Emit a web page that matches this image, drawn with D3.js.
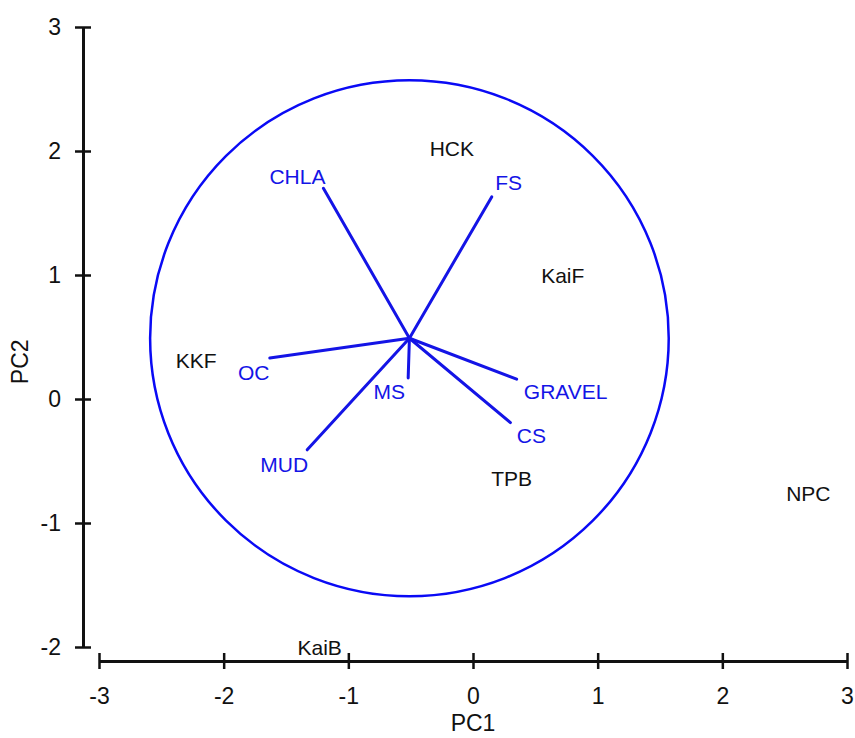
<!DOCTYPE html>
<html>
<head>
<meta charset="utf-8">
<script src="https://cdn.jsdelivr.net/npm/d3@7"></script>
<style>
  html, body { margin: 0; padding: 0; background: #fff; }
  svg { display: block; font-family: "Liberation Sans", Arial, sans-serif; }
</style>
</head>
<body>
<svg id="chart" width="855" height="738"></svg>
<script>
// Site scores on the first two principal components
const siteNames = ["HCK", "KaiF", "KKF", "TPB", "NPC", "KaiB"];
const sitePC1   = [-0.17, 0.72, -2.22, 0.31, 2.69, -1.23];
const sitePC2   = [ 2.02, 1.00,  0.31, -0.64, -0.76, -2.00];

// Environmental variable loadings (vector tips, drawn from the common origin)
const varNames = ["CHLA", "FS", "OC", "MS", "MUD", "CS", "GRAVEL"];
const varPC1   = [-1.20, 0.15, -1.63, -0.52, -1.33, 0.30, 0.35];
const varPC2   = [ 1.70, 1.63,  0.33,  0.17, -0.41, -0.19, 0.16];

// Vector origin and circle of equilibrium contribution
const origin = [-0.51, 0.49];
const circleRadius = 2.08;

const xTicks = [-3, -2, -1, 0, 1, 2, 3];
const yTicks = [-2, -1, 0, 1, 2, 3];

const svg = d3.select("#chart");
const x = d3.scaleLinear().domain([-3, 3]).range([99, 847]);
const y = d3.scaleLinear().domain([-2, 3]).range([647, 27]);

const blue = "#1414e6";
const axisX = 83, axisY = 661;

// Y axis
const gy = svg.append("g")
  .attr("transform", `translate(${axisX},0)`)
  .call(d3.axisLeft(y).tickValues(yTicks).tickFormat(d3.format("d"))
    .tickSizeInner(8).tickSizeOuter(0).tickPadding(14));
// X axis
const gx = svg.append("g")
  .attr("transform", `translate(0,${axisY})`)
  .call(d3.axisBottom(x).tickValues(xTicks).tickFormat(d3.format("d"))
    .tickSizeInner(8).tickSizeOuter(0).tickPadding(19));

[gx, gy].forEach(g => {
  g.select(".domain").attr("stroke", "#111").attr("stroke-width", 3);
  g.selectAll(".tick line").attr("stroke", "#111").attr("stroke-width", 2.5);
  g.selectAll(".tick text")
    .attr("fill", "#111")
    .style("font-size", "23px")
    .style("font-family", "Liberation Sans, Arial, sans-serif");
});
// ticks straddle the axis line
gy.selectAll(".tick line").attr("x1", 8);
gx.selectAll(".tick line").attr("y1", -8);
gy.selectAll(".tick text").text(d => d < 0 ? "-" + Math.abs(d) : d);
gx.selectAll(".tick text").text(d => d < 0 ? "-" + Math.abs(d) : d);

// Axis titles
svg.append("text")
  .attr("x", x(0)).attr("y", 723)
  .attr("text-anchor", "middle").attr("dominant-baseline", "central")
  .style("font-size", "23px").attr("fill", "#111")
  .text("PC1");
svg.append("text")
  .attr("transform", `translate(20,${y(0.3)}) rotate(-90)`)
  .attr("text-anchor", "middle").attr("dominant-baseline", "central")
  .style("font-size", "23px").attr("fill", "#111")
  .text("PC2");

// Circle
svg.append("ellipse")
  .attr("cx", x(origin[0])).attr("cy", y(origin[1]))
  .attr("rx", x(origin[0] + circleRadius) - x(origin[0]))
  .attr("ry", y(origin[1]) - y(origin[1] + circleRadius))
  .attr("fill", "none").attr("stroke", "#0a0af5").attr("stroke-width", 2.5);

// Variable vectors
const vars = varNames.map((n, i) => ({ name: n, pc1: varPC1[i], pc2: varPC2[i] }));
svg.append("g").selectAll("line").data(vars).join("line")
  .attr("x1", x(origin[0])).attr("y1", y(origin[1]))
  .attr("x2", d => x(d.pc1)).attr("y2", d => y(d.pc2))
  .attr("stroke", blue).attr("stroke-width", 3).attr("stroke-linecap", "round");

// label placement beside each vector tip (pixels)
const labelOffset = {
  CHLA: [-26, -12], FS: [17, -14], OC: [-16, 14], MS: [-19, 14],
  MUD: [-23, 15], CS: [21, 13], GRAVEL: [49, 12]
};
svg.append("g").selectAll("text").data(vars).join("text")
  .attr("x", d => x(d.pc1) + labelOffset[d.name][0])
  .attr("y", d => y(d.pc2) + labelOffset[d.name][1])
  .attr("text-anchor", "middle").attr("dominant-baseline", "central")
  .style("font-size", "21px").attr("fill", blue)
  .text(d => d.name);

// Site labels
const sites = siteNames.map((n, i) => ({ name: n, pc1: sitePC1[i], pc2: sitePC2[i] }));
svg.append("g").selectAll("text").data(sites).join("text")
  .attr("x", d => x(d.pc1)).attr("y", d => y(d.pc2))
  .attr("text-anchor", "middle").attr("dominant-baseline", "central")
  .style("font-size", "21px").attr("fill", "#111")
  .text(d => d.name);
</script>
</body>
</html>
